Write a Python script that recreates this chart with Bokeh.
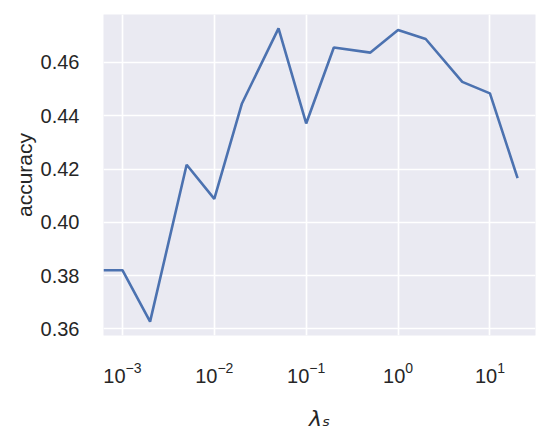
import numpy as np
from bokeh.plotting import figure
from bokeh.models import Range1d, FixedTicker, PrintfTickFormatter, LogTicker
from bokeh.embed import file_html
from bokeh.resources import INLINE

# data
lambdas = [0, 1e-3, 2e-3, 5e-3, 1e-2, 2e-2, 5e-2, 0.1, 0.2, 0.5, 1, 2, 5, 10, 20]
accuracy = [0.382, 0.382, 0.3627, 0.4216, 0.4088, 0.4446, 0.4728, 0.4371,
            0.4656, 0.4637, 0.4722, 0.4688, 0.4527, 0.4484, 0.4166]
y_ticks = [0.36, 0.38, 0.40, 0.42, 0.44, 0.46]

x_lo, x_hi = 10 ** -3.206, 10 ** 1.496
y_lo, y_hi = 0.3575, 0.4780

# a value of 0 cannot sit on a log axis: it is clipped to the left edge
x_plot = [v if v > 0 else x_lo for v in lambdas]

TEXT = "#262626"
p = figure(width=549, height=433, x_axis_type="log",
           x_range=Range1d(x_lo, x_hi), y_range=Range1d(y_lo, y_hi),
           output_backend="svg", toolbar_location=None)
p.min_border_left = 103
p.min_border_right = 14
p.min_border_top = 14
p.min_border_bottom = 98
p.background_fill_color = "#EAEAF2"
p.border_fill_color = "white"
p.outline_line_color = None

p.line(x_plot, accuracy, line_color="#4C72B0", line_width=2.6)

for g in (p.xgrid, p.ygrid):
    g.grid_line_color = "white"
    g.grid_line_width = 1.7
p.xgrid.minor_grid_line_color = None

p.xaxis.ticker = LogTicker(num_minor_ticks=0)
p.yaxis.ticker = FixedTicker(ticks=y_ticks)
p.yaxis.formatter = PrintfTickFormatter(format="%.2f")

for ax in (p.xaxis, p.yaxis):
    ax.axis_line_color = None
    ax.major_tick_line_color = None
    ax.minor_tick_line_color = None
    ax.major_label_text_font = "Liberation Sans"
    ax.major_label_text_font_size = "20px"
    ax.major_label_text_color = TEXT
    ax.axis_label_text_font = "Liberation Sans"
    ax.axis_label_text_font_size = "21px"
    ax.axis_label_text_color = TEXT
    ax.axis_label_text_font_style = "normal"

p.yaxis.axis_label = "accuracy"
p.yaxis.major_label_standoff = 18
p.yaxis.axis_label_standoff = 2

p.xaxis.axis_label = "λₛ"
p.xaxis.axis_label_text_font = "DejaVu Sans"
p.xaxis.axis_label_text_font_style = "italic"
p.xaxis.axis_label_text_font_size = "22px"
p.xaxis.major_label_standoff = 20
p.xaxis.axis_label_standoff = 20

open("out.html", "w").write(file_html(p, INLINE))
